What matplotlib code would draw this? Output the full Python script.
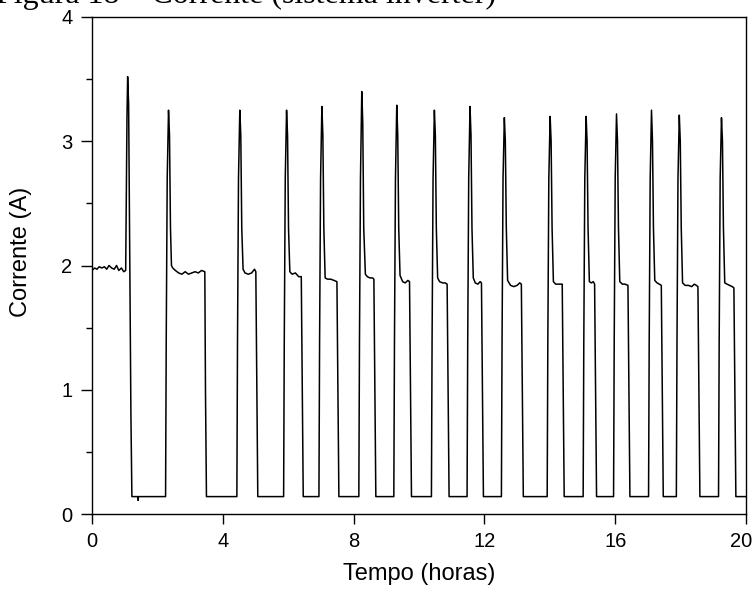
import matplotlib
matplotlib.use('Agg')
from matplotlib import pyplot as plt
from matplotlib import transforms

# leitura do grafico: tempo (h) e corrente (A), pulso a pulso
tempo = [
    0.00, 0.08, 0.15, 0.22, 0.30, 0.38, 0.45, 0.52, 0.60, 0.68, 0.75, 0.82, 0.90, 0.97, 1.03,
    1.05, 1.07, 1.09, 1.12, 1.15, 1.19, 1.22,
    1.40, 1.41, 1.42, 2.25,
    2.27, 2.30, 2.34, 2.37, 2.40, 2.43, 2.47, 2.55, 2.65, 2.75, 2.85, 2.95, 3.05, 3.15, 3.25, 3.35, 3.45, 3.47, 3.50,
    4.43,
    4.45, 4.48, 4.52, 4.55, 4.58, 4.62, 4.68, 4.78, 4.88, 4.97, 5.01, 5.04, 5.07,
    5.86,
    5.88, 5.91, 5.95, 5.98, 6.01, 6.05, 6.12, 6.22, 6.32, 6.40, 6.43, 6.46,
    6.94,
    6.96, 6.99, 7.03, 7.06, 7.09, 7.13, 7.20, 7.30, 7.40, 7.49, 7.52, 7.55,
    8.16,
    8.18, 8.21, 8.25, 8.28, 8.31, 8.36, 8.42, 8.50, 8.58, 8.62, 8.65, 8.68,
    9.23,
    9.25, 9.28, 9.32, 9.35, 9.38, 9.42, 9.50, 9.58, 9.66, 9.71, 9.74, 9.77,
    10.38,
    10.40, 10.43, 10.47, 10.50, 10.53, 10.57, 10.63, 10.72, 10.80, 10.86, 10.89, 10.92,
    11.47,
    11.49, 11.52, 11.56, 11.59, 11.62, 11.66, 11.72, 11.80, 11.87, 11.91, 11.94, 11.97,
    12.52,
    12.54, 12.57, 12.61, 12.64, 12.67, 12.71, 12.80, 12.90, 13.00, 13.08, 13.13, 13.16, 13.19,
    13.92,
    13.94, 13.97, 14.01, 14.04, 14.07, 14.11, 14.18, 14.26, 14.34, 14.38, 14.41, 14.44,
    15.02,
    15.04, 15.07, 15.11, 15.14, 15.17, 15.21, 15.27, 15.33, 15.37, 15.40, 15.43,
    15.95,
    15.97, 16.00, 16.04, 16.07, 16.10, 16.14, 16.22, 16.30, 16.39, 16.42, 16.45,
    17.02,
    17.04, 17.07, 17.11, 17.14, 17.17, 17.21, 17.28, 17.35, 17.41, 17.44, 17.47,
    17.87,
    17.89, 17.92, 17.96, 17.99, 18.02, 18.06, 18.14, 18.24, 18.34, 18.42, 18.48, 18.53, 18.56, 18.59,
    19.16,
    19.18, 19.21, 19.25, 19.28, 19.31, 19.35, 19.42, 19.50, 19.58, 19.63, 19.66, 19.69,
    20.00,
]

corrente = [
    1.96, 1.98, 1.97, 1.99, 1.98, 1.99, 1.97, 2.00, 1.98, 1.97, 2.00, 1.96, 1.98, 1.95, 1.96,
    2.60, 3.20, 3.52, 3.30, 2.20, 0.80, 0.14,
    0.14, 0.11, 0.14, 0.14,
    1.40, 2.70, 3.25, 3.05, 2.30, 2.00, 1.98, 1.96, 1.94, 1.93, 1.95, 1.93, 1.94, 1.95, 1.94, 1.96, 1.95, 1.00, 0.14,
    0.14,
    1.40, 2.70, 3.25, 3.05, 2.30, 1.97, 1.94, 1.93, 1.94, 1.97, 1.95, 1.00, 0.14,
    0.14,
    1.40, 2.70, 3.25, 3.05, 2.30, 1.95, 1.93, 1.94, 1.91, 1.91, 1.00, 0.14,
    0.14,
    1.40, 2.70, 3.28, 3.05, 2.30, 1.90, 1.89, 1.89, 1.88, 1.87, 1.00, 0.14,
    0.14,
    1.40, 2.70, 3.40, 3.15, 2.30, 1.93, 1.91, 1.90, 1.90, 1.89, 1.00, 0.14,
    0.14,
    1.40, 2.70, 3.29, 3.05, 2.30, 1.92, 1.87, 1.86, 1.88, 1.87, 1.00, 0.14,
    0.14,
    1.40, 2.70, 3.25, 3.05, 2.30, 1.90, 1.87, 1.86, 1.86, 1.85, 1.00, 0.14,
    0.14,
    1.40, 2.70, 3.28, 3.05, 2.30, 1.90, 1.86, 1.85, 1.87, 1.86, 1.00, 0.14,
    0.14,
    1.40, 2.70, 3.19, 3.00, 2.30, 1.88, 1.84, 1.83, 1.84, 1.86, 1.85, 1.00, 0.14,
    0.14,
    1.40, 2.70, 3.20, 3.00, 2.30, 1.87, 1.85, 1.85, 1.85, 1.85, 1.00, 0.14,
    0.14,
    1.40, 2.70, 3.20, 3.00, 2.30, 1.87, 1.86, 1.87, 1.85, 1.00, 0.14,
    0.14,
    1.40, 2.70, 3.22, 3.00, 2.30, 1.87, 1.85, 1.85, 1.84, 1.00, 0.14,
    0.14,
    1.40, 2.70, 3.25, 3.00, 2.30, 1.88, 1.86, 1.85, 1.84, 1.00, 0.14,
    0.14,
    1.40, 2.70, 3.21, 3.00, 2.30, 1.86, 1.84, 1.84, 1.83, 1.85, 1.84, 1.83, 1.00, 0.14,
    0.14,
    1.40, 2.70, 3.19, 3.00, 2.30, 1.86, 1.85, 1.84, 1.83, 1.82, 1.00, 0.14,
    0.14,
]

x_ticks = [0, 4, 8, 12, 16, 20]
y_ticks = [0, 1, 2, 3, 4]
y_minor = [0.5, 1.5, 2.5, 3.5]

plt.rcParams['font.family'] = ['Liberation Sans', 'DejaVu Sans']

fig = plt.figure(figsize=(7.54, 5.90), dpi=100)
ax = fig.add_axes([92 / 754, 76 / 590, 654 / 754, 497 / 590])

ax.plot(tempo, corrente, color='black', lw=1.1)

ax.set_xlim(0, 20)
ax.set_ylim(0, 4)
ax.set_xticks(x_ticks)
ax.set_yticks(y_ticks)
ax.set_yticks(y_minor, minor=True)
ax.tick_params(axis='both', which='major', direction='out', labelsize=14.5,
               width=1.0, pad=6)
ax.tick_params(axis='x', which='major', length=7)
ax.tick_params(axis='y', which='major', length=8)
ax.tick_params(axis='y', which='minor', direction='out', length=4, width=1.0)
for s in ax.spines.values():
    s.set_linewidth(1.0)

# o "20" fica encostado na borda direita
ultimo = ax.get_xticklabels()[-1]
ultimo.set_transform(ultimo.get_transform() +
                     transforms.ScaledTranslation(-5 / 100, 0, fig.dpi_scale_trans))

ax.set_xlabel('Tempo (horas)', fontsize=17)
ax.set_ylabel('Corrente (A)', fontsize=17)
ax.xaxis.set_label_coords(0.5, -0.098)
ax.yaxis.set_label_coords(-0.092, 0.527)

# titulo cortado no topo da imagem original
fig.text(-4 / 754, 1 - 3 / 590, 'Figura 18 – Corrente (sistema inverter)',
         family='Liberation Serif', fontsize=23, ha='left', va='baseline')

fig.savefig('out.png', dpi=100)
